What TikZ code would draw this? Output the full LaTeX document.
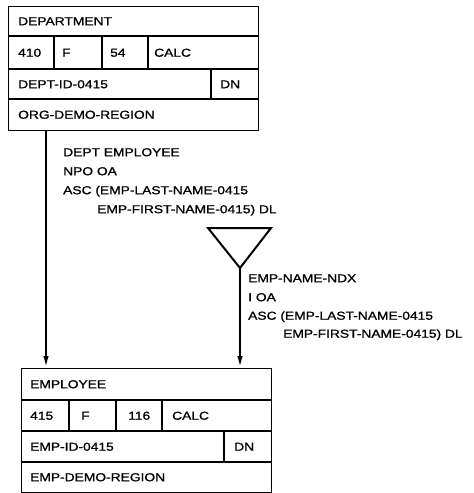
\documentclass[tikz,border=0pt]{standalone}
\usepackage{fontspec}
\setmainfont{Liberation Sans}[FakeStretch=1.2,FakeBold=1.2]
\usetikzlibrary{arrows.meta}
\begin{document}
\begin{tikzpicture}[x=1pt,y=-1pt,
  lbl/.style={anchor=base west, inner sep=0pt, font=\fontsize{11.5}{13}\selectfont},
  recbox/.style={draw, line width=1.2pt, anchor=north west, inner sep=0pt, minimum width=250pt, minimum height=124pt},
  hline/.style={line width=1.2pt},
  vdiv/.style={line width=1.8pt},
  conn/.style={line width=2pt, -{Latex[length=12pt,width=5.5pt]}},
  tri/.style={line width=2pt, line join=miter}]
\useasboundingbox (0,0) rectangle (474,493);

% DEPARTMENT record
\node[recbox] (dept) at (8,6) {};
\draw[hline] (8,36) -- (258,36);
\draw[hline] (8,69) -- (258,69);
\draw[hline] (8,99) -- (258,99);
\draw[vdiv] (54,36) -- (54,69);
\draw[vdiv] (102,36) -- (102,69);
\draw[vdiv] (148,36) -- (148,69);
\draw[vdiv] (211,69) -- (211,99);
\node[lbl] (d1) at (18,25.2) {DEPARTMENT};
\node[lbl] (d2) at (18,56.7) {410};
\node[lbl] (d3) at (62,56.7) {F};
\node[lbl] (d4) at (110,56.7) {54};
\node[lbl] (d5) at (154,56.7) {CALC};
\node[lbl] (d6) at (18,88.2) {DEPT-ID-0415};
\node[lbl] (d7) at (220,88.2) {DN};
\node[lbl] (d8) at (18,118.7) {ORG-DEMO-REGION};

% EMPLOYEE record
\node[recbox] (emp) at (21,368) {};
\draw[hline] (21,400) -- (271,400);
\draw[hline] (21,431) -- (271,431);
\draw[hline] (21,462) -- (271,462);
\draw[vdiv] (69,400) -- (69,431);
\draw[vdiv] (116,400) -- (116,431);
\draw[vdiv] (162,400) -- (162,431);
\draw[vdiv] (224,431) -- (224,462);
\node[lbl] (e1) at (30,388.2) {EMPLOYEE};
\node[lbl] (e2) at (30,419.7) {415};
\node[lbl] (e3) at (81,419.7) {F};
\node[lbl] (e4) at (128,419.7) {116};
\node[lbl] (e5) at (172,419.7) {CALC};
\node[lbl] (e6) at (30,450.7) {EMP-ID-0415};
\node[lbl] (e7) at (234,450.7) {DN};
\node[lbl] (e8) at (30,481.2) {EMP-DEMO-REGION};

% set connector
\coordinate (s1) at (46,130);
\draw[conn] (s1) -- (s1 |- emp.north);
\node[lbl] (l1) at (63,156.2) {DEPT EMPLOYEE};
\node[lbl] (l2) at (63,175.2) {NPO OA};
\node[lbl] (l3) at (63,194.2) {ASC (EMP-LAST-NAME-0415};
\node[lbl] (l4) at (97,213.2) {EMP-FIRST-NAME-0415) DL};

% index
\coordinate (t1) at (208,228);
\coordinate (t2) at (271,228);
\coordinate (tip) at (240,268);
\draw[tri] (t1) -- (t2) -- (tip) -- cycle;
\draw[conn] (tip) -- (tip |- emp.north);
\node[lbl] (m1) at (248,282.2) {EMP-NAME-NDX};
\node[lbl] (m2) at (248,301.2) {I OA};
\node[lbl] (m3) at (248,319.7) {ASC (EMP-LAST-NAME-0415};
\node[lbl] (m4) at (283,337.7) {EMP-FIRST-NAME-0415) DL};
\end{tikzpicture}
\end{document}
